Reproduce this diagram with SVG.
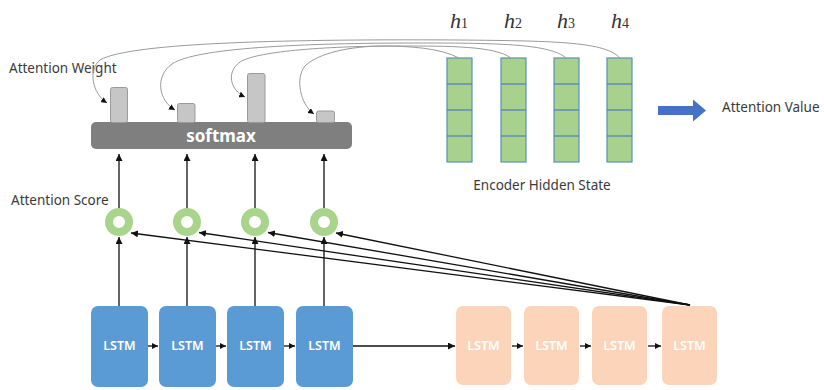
<svg xmlns="http://www.w3.org/2000/svg" width="824" height="390" viewBox="0 0 824 390">
<defs>
<marker id="ah" viewBox="0 0 8 8" refX="8" refY="4" markerWidth="7" markerHeight="7" markerUnits="userSpaceOnUse" orient="auto">
<path d="M0,0 L8,4 L0,8 Z" fill="#111"/>
</marker>
<marker id="ahs" viewBox="0 0 8 8" refX="8" refY="4" markerWidth="6" markerHeight="6" markerUnits="userSpaceOnUse" orient="auto">
<path d="M0,0 L8,4 L0,8 Z" fill="#111"/>
</marker>
</defs>
<style>
.lbl{font-family:"Noto Sans","Liberation Sans",sans-serif;font-size:13.5px;fill:#3a3a3a}
.dec rect{fill:#5B9BD5}
.enc rect{fill:#FBD4B9}
.lt{font-family:"Noto Sans","Liberation Sans",sans-serif;font-size:12.5px;font-weight:600;fill:#fff;text-anchor:middle}
.ring{fill:none;stroke:#A8D48C;stroke-width:8}
.bar{fill:#C6C6C6;stroke:#9a9a9a;stroke-width:1}
.col rect{fill:#A9D18E;stroke:#5a8fb3;stroke-width:1.2}
.col line{stroke:#4a7fbf;stroke-width:1.2}
.hl{font-family:"Liberation Serif","DejaVu Serif",serif;font-style:italic;font-size:22px;fill:#333;text-anchor:middle}
.k{stroke:#111;stroke-width:1.3;fill:none}
.cv{stroke:#9a9a9a;stroke-width:1;fill:none}
</style>
<rect width="824" height="390" fill="#fff"/>

<g id="labels">
<text class="lbl" x="9" y="73">Attention Weight</text>
<text class="lbl" x="11" y="205">Attention Score</text>
<text class="lbl" x="542" y="190" text-anchor="middle">Encoder Hidden State</text>
<text class="lbl" x="722" y="112">Attention Value</text>
</g>

<g id="softmax">
<rect x="91" y="122" width="261" height="27" rx="5" fill="#7F7F7F"/>
<text x="221" y="142" text-anchor="middle" font-family="Noto Sans, Liberation Sans, sans-serif" font-size="17" font-weight="bold" fill="#fff">softmax</text>
</g>

<g id="weights">
<rect class="bar" x="110.5" y="87.5" width="17" height="35" rx="2"/>
<rect class="bar" x="177.5" y="103.5" width="17.5" height="19" rx="2"/>
<rect class="bar" x="247.5" y="73.5" width="17.5" height="49" rx="2"/>
<rect class="bar" x="316.5" y="111" width="18" height="11.5" rx="2"/>
</g>

<g id="scores">
<circle class="ring" cx="119" cy="222" r="10"/>
<circle class="ring" cx="187" cy="222" r="10"/>
<circle class="ring" cx="255" cy="222" r="10"/>
<circle class="ring" cx="324" cy="222" r="10"/>
</g>

<g id="decoder" class="dec">
<g id="dec1"><rect x="91" y="306" width="57" height="81" rx="7"/><text class="lt" x="119.5" y="350">LSTM</text></g>
<g id="dec2"><rect x="159" y="306" width="57" height="81" rx="7"/><text class="lt" x="187.5" y="350">LSTM</text></g>
<g id="dec3"><rect x="227" y="306" width="57" height="81" rx="7"/><text class="lt" x="255.5" y="350">LSTM</text></g>
<g id="dec4"><rect x="296" y="306" width="57" height="81" rx="7"/><text class="lt" x="324.5" y="350">LSTM</text></g>
</g>

<g id="encoder" class="enc">
<g id="enc1"><rect x="456" y="306" width="55" height="79" rx="7"/><text class="lt" x="483.5" y="350">LSTM</text></g>
<g id="enc2"><rect x="524" y="306" width="55" height="79" rx="7"/><text class="lt" x="551.5" y="350">LSTM</text></g>
<g id="enc3"><rect x="592" y="306" width="55" height="79" rx="7"/><text class="lt" x="619.5" y="350">LSTM</text></g>
<g id="enc4"><rect x="662" y="306" width="55" height="79" rx="7"/><text class="lt" x="689.5" y="350">LSTM</text></g>
</g>

<g id="hidden">
<g id="h1" class="col"><rect x="447" y="58" width="25" height="104"/><line x1="447" y1="84" x2="472" y2="84"/><line x1="447" y1="110" x2="472" y2="110"/><line x1="447" y1="136" x2="472" y2="136"/><text class="hl" x="459" y="28">h<tspan font-size="14" font-style="normal">1</tspan></text></g>
<g id="h2" class="col"><rect x="501" y="58" width="25" height="104"/><line x1="501" y1="84" x2="526" y2="84"/><line x1="501" y1="110" x2="526" y2="110"/><line x1="501" y1="136" x2="526" y2="136"/><text class="hl" x="513" y="28">h<tspan font-size="14" font-style="normal">2</tspan></text></g>
<g id="h3" class="col"><rect x="554" y="58" width="25" height="104"/><line x1="554" y1="84" x2="579" y2="84"/><line x1="554" y1="110" x2="579" y2="110"/><line x1="554" y1="136" x2="579" y2="136"/><text class="hl" x="566" y="28">h<tspan font-size="14" font-style="normal">3</tspan></text></g>
<g id="h4" class="col"><rect x="607" y="58" width="25" height="104"/><line x1="607" y1="84" x2="632" y2="84"/><line x1="607" y1="110" x2="632" y2="110"/><line x1="607" y1="136" x2="632" y2="136"/><text class="hl" x="620" y="28">h<tspan font-size="14" font-style="normal">4</tspan></text></g>
</g>

<g id="value-arrow">
<path d="M658,106 L693,106 L693,99.5 L706,110.5 L693,121.5 L693,115 L658,115 Z" fill="#4472C4"/>
</g>

<g id="connectors">
<path class="cv" marker-end="url(#ahs)" d="M620,58 C605,42 560,41 460,40 C300,39 130,42 100,60 C88,70 92,93 107,103"/>
<path class="cv" marker-end="url(#ahs)" d="M566,58 C550,44 500,43 420,43 C300,43 195,48 172,64 C155,76 158,100 175,110"/>
<path class="cv" marker-end="url(#ahs)" d="M511,58 C495,46 450,46 400,46 C320,46 255,52 240,62 C226,72 230,90 245,97"/>
<path class="cv" marker-end="url(#ahs)" d="M459,58 C440,48 410,46 380,46 C340,47 315,56 305,66 C295,78 300,104 314,114"/>

<line class="k" x1="119" y1="208" x2="119" y2="154" marker-end="url(#ah)"/>
<line class="k" x1="187" y1="208" x2="187" y2="154" marker-end="url(#ah)"/>
<line class="k" x1="255" y1="208" x2="255" y2="154" marker-end="url(#ah)"/>
<line class="k" x1="324" y1="208" x2="324" y2="154" marker-end="url(#ah)"/>

<line class="k" x1="119" y1="306" x2="119" y2="237" marker-end="url(#ah)"/>
<line class="k" x1="187" y1="306" x2="187" y2="237" marker-end="url(#ah)"/>
<line class="k" x1="255" y1="306" x2="255" y2="237" marker-end="url(#ah)"/>
<line class="k" x1="324" y1="306" x2="324" y2="237" marker-end="url(#ah)"/>

<line class="k" x1="690" y1="305" x2="131" y2="233" marker-end="url(#ah)"/>
<line class="k" x1="690" y1="305" x2="199" y2="232.5" marker-end="url(#ah)"/>
<line class="k" x1="690" y1="305" x2="268" y2="232.5" marker-end="url(#ah)"/>
<line class="k" x1="690" y1="305" x2="336" y2="233" marker-end="url(#ah)"/>

<line class="k" x1="148" y1="346" x2="158" y2="346" marker-end="url(#ahs)"/>
<line class="k" x1="216" y1="346" x2="226" y2="346" marker-end="url(#ahs)"/>
<line class="k" x1="284" y1="346" x2="295" y2="346" marker-end="url(#ahs)"/>
<line class="k" x1="353" y1="346" x2="455" y2="346" marker-end="url(#ah)"/>
<line class="k" x1="512" y1="346" x2="523" y2="346" marker-end="url(#ahs)"/>
<line class="k" x1="580" y1="346" x2="591" y2="346" marker-end="url(#ahs)"/>
<line class="k" x1="648" y1="346" x2="661" y2="346" marker-end="url(#ahs)"/>
</g>
</svg>
